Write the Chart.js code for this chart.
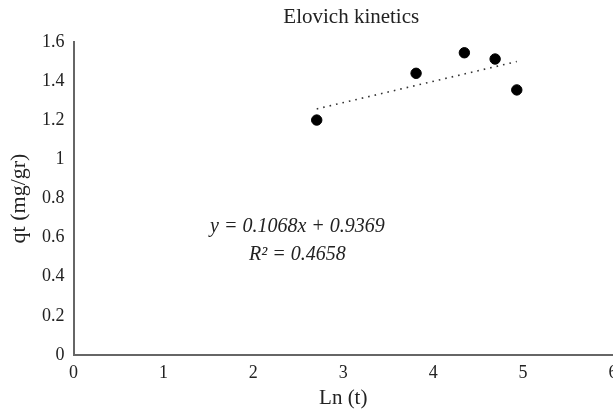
<!DOCTYPE html>
<html>
<head>
<meta charset="utf-8">
<script src="https://cdn.jsdelivr.net/npm/chart.js@4/dist/chart.umd.min.js"></script>
<style>
  html, body { margin: 0; padding: 0; overflow: hidden; background: #fff; }
  #wrap { width: 702px; height: 411px; position: relative; }
</style>
</head>
<body>
<div id="wrap"><canvas id="c"></canvas></div>
<script>
// Data
const lnT = [2.705, 3.81, 4.347, 4.689, 4.93];
const qt = [1.201, 1.44, 1.545, 1.513, 1.355];
// Trendline endpoints as drawn in the picture
const trendX = [2.705, 4.93];
const trendY = [1.258, 1.50];
const xTicks = [0, 1, 2, 3, 4, 5, 6];
const yTicks = [0, 0.2, 0.4, 0.6, 0.8, 1, 1.2, 1.4, 1.6];
const titleText = 'Elovich kinetics';
const xTitle = 'Ln (t)';
const yTitle = 'qt (mg/gr)';
const equationLines = ['y = 0.1068x + 0.9369', 'R² = 0.4658'];
const equationAnchor = [2.49, 0.655];

const serif = '"Liberation Serif", "Times New Roman", serif';
const axisColor = '#666666';
const textColor = '#222222';

const textPlugin = {
  id: 'texts',
  afterDatasetsDraw(chart) {
    const ctx = chart.ctx;
    const xs = chart.scales.x, ys = chart.scales.y;
    const area = chart.chartArea;
    ctx.save();
    ctx.fillStyle = textColor;
    // equation
    ctx.font = 'italic 20px ' + serif;
    ctx.textAlign = 'center';
    ctx.textBaseline = 'middle';
    const px = xs.getPixelForValue(equationAnchor[0]);
    const py = ys.getPixelForValue(equationAnchor[1]);
    equationLines.forEach((t, i) => ctx.fillText(t, px, py + i * 28));
    // chart title
    ctx.font = '21px ' + serif;
    ctx.fillText(titleText, (area.left + area.right) / 2 + 8, 17);
    ctx.restore();
  }
};

new Chart(document.getElementById('c'), {
  type: 'scatter',
  data: {
    datasets: [
      {
        label: 'qt',
        data: lnT.map((x, i) => ({ x: x, y: qt[i] })),
        backgroundColor: '#000',
        borderColor: '#000',
        pointRadius: 5.2,
        pointHoverRadius: 5.2,
        order: 1
      },
      {
        label: 'trend',
        type: 'line',
        data: trendX.map((x, i) => ({ x: x, y: trendY[i] })),
        borderColor: '#333',
        borderWidth: 1.6,
        borderDash: [1.6, 5],
        pointRadius: 0,
        fill: false,
        order: 2
      }
    ]
  },
  options: {
    responsive: true,
    maintainAspectRatio: false,
    animation: false,
    layout: { padding: { left: 6, right: 89, top: 42, bottom: 0 } },
    plugins: {
      legend: { display: false },
      tooltip: { enabled: false },
      title: { display: false }
    },
    scales: {
      x: {
        type: 'linear',
        min: 0, max: 6,
        afterBuildTicks: (s) => { s.ticks = xTicks.map(v => ({ value: v })); },
        afterFit: (s) => { s.height = 56; },
        grid: { display: false, drawTicks: false },
        border: { display: true, color: axisColor, width: 2 },
        ticks: { color: textColor, font: { family: serif, size: 18 }, padding: 7 },
        title: { display: true, text: xTitle, color: textColor, font: { family: serif, size: 21 }, padding: { top: 0, bottom: 0 } }
      },
      y: {
        type: 'linear',
        min: 0, max: 1.6,
        afterBuildTicks: (s) => { s.ticks = yTicks.map(v => ({ value: v })); },
        afterFit: (s) => { s.width = 67.5; },
        grid: { display: false, drawTicks: false },
        border: { display: true, color: axisColor, width: 2 },
        ticks: { color: textColor, font: { family: serif, size: 18 }, padding: 9,
                 callback: (v) => String(Math.round(v * 10) / 10) },
        title: { display: true, text: yTitle, color: textColor, font: { family: serif, size: 22 }, padding: { top: 0, bottom: 0 } }
      }
    }
  },
  plugins: [textPlugin]
});
</script>
</body>
</html>
